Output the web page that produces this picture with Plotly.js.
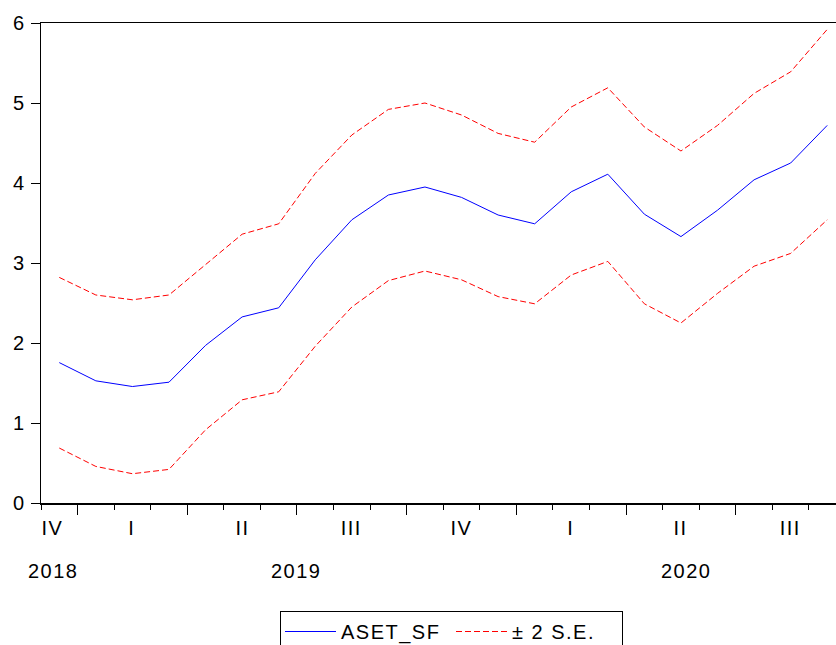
<!DOCTYPE html>
<html>
<head>
<meta charset="utf-8">
<script src="https://cdn.plot.ly/plotly-3.0.1.min.js"></script>
<style>html,body{margin:0;padding:0;background:#fff;}#chart{width:836px;height:645px;}
#chart svg text{letter-spacing:1.5px;}</style>
</head>
<body>
<div id="chart"></div>
<script>
// Monthly periods, Dec 2018 .. Sep 2020 (plotted by position index)
const months = ["2018-12","2019-01","2019-02","2019-03","2019-04","2019-05","2019-06","2019-07","2019-08","2019-09","2019-10","2019-11","2019-12","2020-01","2020-02","2020-03","2020-04","2020-05","2020-06","2020-07","2020-08","2020-09"];
const asetSF = [1.755,1.527,1.456,1.51,1.97,2.326,2.44,3.04,3.54,3.85,3.95,3.82,3.60,3.49,3.89,4.11,3.61,3.33,3.66,4.04,4.25,4.72];
const upperSE = [2.82,2.60,2.54,2.60,2.98,3.36,3.49,4.12,4.60,4.92,5.00,4.85,4.62,4.51,4.95,5.19,4.70,4.40,4.72,5.12,5.39,5.92];
const lowerSE = [0.687,0.457,0.366,0.42,0.915,1.29,1.39,1.96,2.45,2.78,2.90,2.79,2.58,2.49,2.85,3.02,2.49,2.25,2.62,2.96,3.12,3.54];
const quarterLabels = ["IV","I","II","III","IV","I","II","III"];
const quarterPos = [-0.17,2,5,8,11,14,17,20];
const yearLabels = ["2018","2019","2020"];
const yearPos = [-0.17,6.5,17.15];

const idx = months.map((m,i)=>i);
const FONT = "Liberation Sans, Arial, sans-serif";

const traces = [
  {x: idx, y: asetSF, type:'scatter', mode:'lines', name:'ASET_SF',
   line:{color:'#0000ff', width:1}},
  {x: idx, y: upperSE, type:'scatter', mode:'lines', name:'± 2 S.E.', legendgroup:'se',
   line:{color:'#ff0000', width:1, dash:'6px,3px'}},
  {x: idx, y: lowerSE, type:'scatter', mode:'lines', name:'± 2 S.E.', legendgroup:'se', showlegend:false,
   line:{color:'#ff0000', width:1, dash:'6px,3px'}}
];

const T=23, B=142, H=645;
const plotH = H - T - B;
const annotations = [];
quarterLabels.forEach((t,i)=>annotations.push({x:quarterPos[i], y:(H-B-528)/plotH, xref:'x', yref:'paper', text:t, showarrow:false, font:{family:FONT,size:20,color:'#000'}, xanchor:'center', yanchor:'middle'}));
yearLabels.forEach((t,i)=>annotations.push({x:yearPos[i], y:(H-B-571)/plotH, xref:'x', yref:'paper', text:t, showarrow:false, font:{family:FONT,size:20,color:'#000'}, xanchor:'center', yanchor:'middle'}));

const layout = {
  width:836, height:645,
  margin:{l:41, r:0, t:T, b:B, pad:0, autoexpand:false},
  paper_bgcolor:'#fff', plot_bgcolor:'#fff',
  font:{family:FONT, size:20, color:'#000'},
  showlegend:true,
  legend:{orientation:'h', x:(451.5-41)/795, xanchor:'center', y:-(611-(H-B))/plotH, yanchor:'top',
    itemwidth:51, entrywidth:105, entrywidthmode:'pixels',
    bordercolor:'#000', borderwidth:1, font:{family:FONT,size:20,color:'#000'}, bgcolor:'#fff'},
  xaxis:{range:[-0.5,21.24], showgrid:false, zeroline:false, showline:true, linecolor:'#000', linewidth:1.5,
    mirror:true, ticks:'outside', ticklen:10, tickcolor:'#000', tickwidth:1,
    tickmode:'linear', tick0:0.5, dtick:3, showticklabels:false,
    minor:{ticks:'outside', ticklen:5, tickcolor:'#000', tickwidth:1, tick0:-0.5, dtick:1, showgrid:false}},
  yaxis:{range:[0,6], showgrid:false, zeroline:false, showline:true, linecolor:'#000', linewidth:1.5,
    ticks:'outside', ticklen:9, tickcolor:'#000', tickwidth:1, tickmode:'linear', tick0:0, dtick:1,
    ticklabelstandoff:1, tickfont:{family:FONT,size:20,color:'#000'}},
  annotations: annotations
};

Plotly.newPlot('chart', traces, layout, {displayModeBar:false, staticPlot:true});
</script>
</body>
</html>
